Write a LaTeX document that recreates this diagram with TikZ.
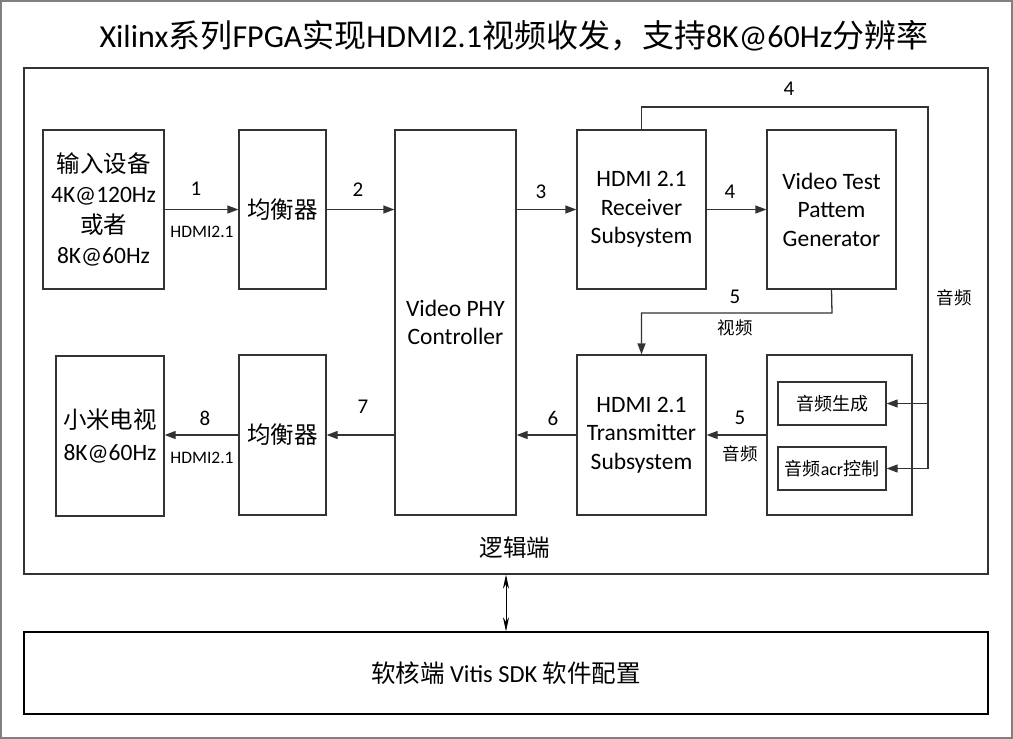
\documentclass[tikz,border=0pt]{standalone}
\usepackage{fontspec}
\setmainfont{Carlito}
\newfontfamily\cjk{Noto Sans CJK SC}
\usetikzlibrary{arrows.meta}
\tikzset{
  blk/.style={draw=black!80, line width=1.3pt, fill=white, inner sep=0pt, align=center,
    font=\fontsize{23.5}{28.5}\selectfont},
  conn/.style={draw=black!80, line width=1.3pt},
  arr/.style={conn, -{Triangle[length=11pt,width=8pt]}},
  num/.style={font=\fontsize{21}{24}\selectfont, inner sep=0pt},
  lbl/.style={font=\fontsize{17.5}{20}\selectfont, inner sep=0pt},
}
\begin{document}
\begin{tikzpicture}[x=1pt,y=-1pt]
\useasboundingbox (0,0) rectangle (1013,739);
\draw[draw=black!50, line width=1.5pt] (1,1) rectangle (1012,738);
\node[font=\fontsize{32}{34}\selectfont, inner sep=0pt] (title) at (514,36)
  {Xilinx{\cjk 系列}FPGA{\cjk 实现}HDMI2.1{\cjk 视频收发，支持}8K@60Hz{\cjk 分辨率}};

\node[blk, minimum width=964pt, minimum height=506pt] (logic) at (506,321) {};
\node[blk, minimum width=964pt, minimum height=82pt, draw=black, font=\fontsize{24.5}{28}\selectfont] (soft) at (506,673)
  {{\cjk 软核端} Vitis SDK {\cjk 软件配置}};
\node[font=\fontsize{23.5}{26}\selectfont, inner sep=0pt] (logiclbl) at (515,548) {\cjk 逻辑端};

\node[blk, minimum width=121pt, minimum height=159pt, font=\fontsize{23.5}{30.5}\selectfont] (in) at (103.5,209.5)
  {{\cjk 输入设备}\\4K@120Hz\\{\cjk 或者}\\8K@60Hz};
\node[blk, minimum width=87pt, minimum height=159pt] (eqa) at (282.5,209.5) {\cjk 均衡器};
\node[blk, minimum width=121pt, minimum height=385pt] (phy) at (455.5,322.5)
  {Video PHY\\Controller};
\node[blk, minimum width=129pt, minimum height=159pt] (rx) at (641.5,209.5)
  {HDMI 2.1\\Receiver\\Subsystem};
\node[blk, minimum width=129pt, minimum height=159pt] (vtpg) at (831.5,209.5)
  {Video Test\\Pattem\\Generator};
\node[blk, minimum width=108pt, minimum height=160pt, font=\fontsize{23.5}{32}\selectfont] (tv) at (110,436)
  {{\cjk 小米电视}\\8K@60Hz};
\node[blk, minimum width=87pt, minimum height=160pt] (eqb) at (282.5,435) {\cjk 均衡器};
\node[blk, minimum width=129pt, minimum height=160pt] (tx) at (641.5,435)
  {HDMI 2.1\\Transmitter\\Subsystem};
\node[blk, minimum width=145pt, minimum height=160pt] (aud) at (839.5,435) {};
\node[blk, minimum width=108pt, minimum height=43pt, font=\fontsize{18}{20}\selectfont] (gen) at (832,403.5)
  {\cjk 音频生成};
\node[blk, minimum width=108pt, minimum height=43pt, font=\fontsize{18}{20}\selectfont] (acr) at (832,468.5)
  {{\cjk 音频}acr{\cjk 控制}};

% connectors
\draw[arr] (in.east) -- (eqa.west);
\draw[arr] (eqa.east) -- (eqa.east -| phy.west);
\draw[arr] (phy.east |- rx.west) -- (rx.west);
\draw[arr] (rx.east) -- (vtpg.west);
\coordinate (tr) at (928,107);
\draw[arr] (rx.north) |- (tr) |- (acr.east);
\draw[arr] (tr |- gen.east) -- (gen.east);
\coordinate (vb) at (832,313);
\draw[arr] (vtpg.south) -- (vb) -| (tx.north);
\draw[arr] (aud.west) -- (tx.east);
\draw[arr] (tx.west) -- (tx.west -| phy.east);
\draw[arr] (phy.west |- eqb.east) -- (eqb.east);
\draw[arr] (eqb.west) -- (tv.east |- eqb.west);
\draw[draw=black, line width=0.8pt, {Stealth[length=14pt,width=6pt]}-{Stealth[length=14pt,width=6pt]}] (logic.south) -- (soft.north);

% labels
\node[num] (n1) at (196,189) {1};
\node[lbl] (h1) at (202,232) {HDMI2.1};
\node[num] (n2) at (358,190) {2};
\node[num] (n3) at (541,192) {3};
\node[num] (n4a) at (730,192) {4};
\node[num] (n4b) at (789,89) {4};
\node[lbl] (au1) at (954,298) {\cjk 音频};
\node[num] (n5a) at (735,297) {5};
\node[lbl] (vid) at (735,328) {\cjk 视频};
\node[num] (n5b) at (740,418) {5};
\node[lbl] (au2) at (740,454) {\cjk 音频};
\node[num] (n6) at (553,418) {6};
\node[num] (n7) at (363,407) {7};
\node[num] (n8) at (205,418) {8};
\node[lbl] (h8) at (202,458) {HDMI2.1};
\end{tikzpicture}
\end{document}
